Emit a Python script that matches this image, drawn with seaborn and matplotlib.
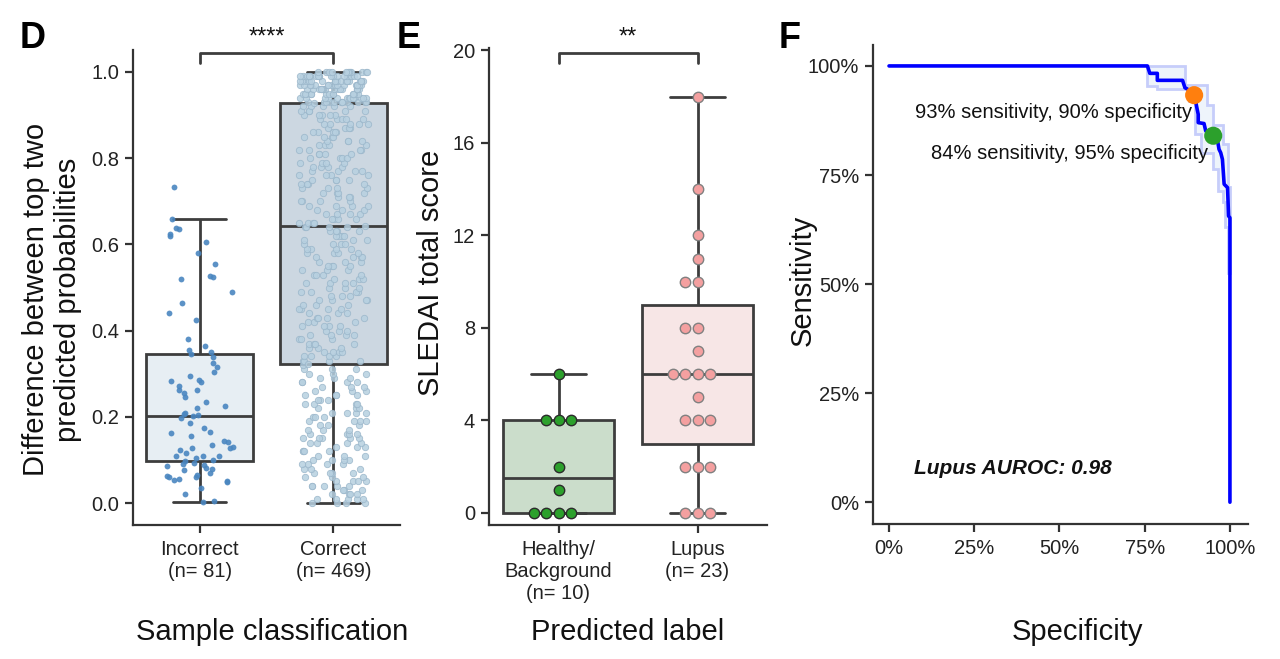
import numpy as np
import pandas as pd
import matplotlib
matplotlib.use("Agg")
from matplotlib import pyplot as plt
from matplotlib.ticker import PercentFormatter
import seaborn as sns

np.random.seed(3)

# ---- panel D: difference between top two predicted probabilities
d_cats = ["Incorrect\n(n= 81)", "Correct\n(n= 469)"]
incorrect_vals = [
    0.002, 0.004, 0.02, 0.035, 0.048, 0.05, 0.053, 0.055, 0.06, 0.06,
    0.062, 0.066, 0.07, 0.077, 0.08, 0.082, 0.085, 0.088, 0.09, 0.093,
    0.097,
    0.1, 0.105, 0.108, 0.11, 0.11, 0.115, 0.122, 0.127, 0.128, 0.13,
    0.135, 0.142, 0.143, 0.155, 0.163, 0.165, 0.175, 0.185, 0.198,
    0.203,
    0.205, 0.206, 0.21, 0.22, 0.225, 0.235, 0.245, 0.255, 0.262, 0.263,
    0.272, 0.28, 0.282, 0.285, 0.295, 0.303, 0.315, 0.325, 0.338,
    0.346,
    0.35, 0.355, 0.365, 0.38, 0.425, 0.44, 0.465, 0.49, 0.52, 0.525,
    0.527, 0.555, 0.58, 0.605, 0.62, 0.625, 0.635, 0.637, 0.66, 0.733,
]
# number of "Correct" samples at each 0.01 step, 0.00 ... 1.00
correct_counts = [
    4, 5, 4, 3, 5, 4, 3, 4, 3, 4,
    4, 3, 4, 3, 4, 5, 4, 3, 3, 4,
    3, 4, 3, 4, 3, 4, 3, 3, 4, 3,
    3, 3, 1, 4, 4, 4, 3, 4, 3, 4,
    3, 4, 3, 4, 3, 4, 3, 4, 3, 4,
    3, 4, 3, 4, 3, 4, 3, 4, 4, 4,
    4, 3, 4, 4, 4, 4, 4, 4, 3, 4,
    4, 3, 4, 4, 4, 4, 4, 4, 4, 4,
    4, 4, 4, 4, 4, 4, 5, 4, 5, 5,
    5, 5, 5, 12, 13, 14, 15, 16, 17, 18,
    12,
]
correct_extra = [0.323, 0.643, 0.927]

# ---- panel E: SLEDAI score by predicted label
e_cats = ["Healthy/\nBackground\n(n= 10)", "Lupus\n(n= 23)"]
healthy_sledai = [0, 0, 0, 0, 1, 2, 4, 4, 4, 6]
lupus_sledai = [0, 0, 0, 2, 2, 2, 4, 4, 4, 5, 6, 6, 6, 6, 7, 8, 8, 10, 10, 11, 12, 14, 18]

# ---- panel F: ROC curve
roc_spec = [0.0, 0.758, 0.765, 0.787, 0.787, 0.861, 0.868, 0.885, 0.897, 0.902,
            0.907, 0.907, 0.924, 0.929, 0.949, 0.963, 0.968, 0.973, 0.978, 0.983,
            0.993, 0.996, 1.0, 1.0]
roc_sens = [1.0, 1.0, 0.983, 0.983, 0.967, 0.967, 0.950, 0.943, 0.931, 0.908,
            0.889, 0.870, 0.868, 0.851, 0.839, 0.832, 0.809, 0.801, 0.786, 0.729,
            0.721, 0.656, 0.652, 0.0]
ci_hi_spec = [0.758, 0.868, 0.868, 0.932, 0.932, 0.951, 0.951, 0.980, 0.980, 0.995, 0.995, 1.0]
ci_hi_sens = [1.0, 1.0, 0.956, 0.956, 0.910, 0.910, 0.864, 0.864, 0.820, 0.820, 0.722, 0.722]
ci_lo_spec = [0.758, 0.758, 0.785, 0.785, 0.880, 0.880, 0.897, 0.897, 0.915, 0.915, 0.951,
              0.951, 0.966, 0.966, 0.980, 0.980, 0.985, 0.985, 0.994, 0.994, 1.0]
ci_lo_sens = [1.0, 0.953, 0.953, 0.946, 0.946, 0.920, 0.920, 0.843, 0.843, 0.800, 0.800,
              0.763, 0.763, 0.713, 0.713, 0.687, 0.687, 0.630, 0.630, 0.525, 0.525]
cut_names = ["90% specificity", "95% specificity"]
cut_spec = [0.895, 0.951]
cut_sens = [0.933, 0.840]
cut_labels = ["93% sensitivity, 90% specificity", "84% sensitivity, 95% specificity"]
auroc = 0.98

# ---------------------------------------------------------------
sns.set_style("ticks")
plt.rcParams["font.family"] = ["Liberation Sans", "DejaVu Sans"]
dark = "#3d3d3d"
plt.rcParams.update({
    "text.color": "#111111", "axes.labelcolor": "#111111",
    "axes.edgecolor": "#333333", "axes.linewidth": 1.6,
    "xtick.color": "#333333", "ytick.color": "#333333",
    "xtick.labelcolor": "#222222", "ytick.labelcolor": "#222222",
    "xtick.major.size": 6, "ytick.major.size": 6,
    "xtick.major.width": 1.6, "ytick.major.width": 1.6,
    "xtick.labelsize": 14.5, "ytick.labelsize": 14.5,
    "xtick.major.pad": 5, "ytick.major.pad": 4,
})

fig = plt.figure(figsize=(12.8, 6.59), dpi=100)
axD = fig.add_axes([133 / 1280, 134 / 659, 267 / 1280, 475 / 659])
axE = fig.add_axes([489 / 1280, 134 / 659, 278 / 1280, 477 / 659])
axF = fig.add_axes([873 / 1280, 135 / 659, 375 / 1280, 479 / 659])

# ---- D
grid = np.round(np.arange(len(correct_counts)) * 0.01, 2)
correct_vals = np.concatenate([np.repeat(grid, correct_counts), correct_extra])
dfD = pd.DataFrame({
    "cls": [d_cats[0]] * len(incorrect_vals) + [d_cats[1]] * len(correct_vals),
    "diff": np.concatenate([incorrect_vals, correct_vals]),
})
sns.boxplot(data=dfD, x="cls", y="diff", order=d_cats, hue="cls", hue_order=d_cats,
            palette=["#e5eef5", "#c8d7e5"], legend=False, width=0.8, linewidth=2,
            linecolor=dark, showfliers=False, ax=axD)
sns.stripplot(data=dfD[dfD.cls == d_cats[0]], x="cls", y="diff", order=d_cats,
              color="#4a86c0", size=4.2, jitter=0.26, alpha=0.9, linewidth=0, ax=axD)
sns.stripplot(data=dfD[dfD.cls == d_cats[1]], x="cls", y="diff", order=d_cats,
              color="#b7d0e0", size=4.6, jitter=0.26, alpha=0.85, linewidth=0.6,
              edgecolor="#9ab6ca", ax=axD)
axD.set_ylim(-0.051, 1.051)
axD.set_xlim(-0.5, 1.5)
axD.set_yticks([0, 0.2, 0.4, 0.6, 0.8, 1.0])
axD.set_yticklabels(["0.0", "0.2", "0.4", "0.6", "0.8", "1.0"])
axD.plot([0, 0, 1, 1], [1.021, 1.044, 1.044, 1.021], color=dark, lw=2, clip_on=False)
axD.text(0.5, 1.066, "****", ha="center", va="baseline", fontsize=17, clip_on=False)
axD.set_ylabel("Difference between top two\npredicted probabilities", fontsize=21,
               linespacing=1.2)
axD.set_xlabel("Sample classification", fontsize=21)
axD.yaxis.set_label_coords(-0.19, 0.474)
axD.xaxis.set_label_coords(0.52, -0.195)
axD.xaxis.label.set_va("top")

# ---- E
dfE = pd.DataFrame({
    "label": [e_cats[0]] * len(healthy_sledai) + [e_cats[1]] * len(lupus_sledai),
    "score": healthy_sledai + lupus_sledai,
})
sns.boxplot(data=dfE, x="label", y="score", order=e_cats, hue="label", hue_order=e_cats,
            palette=["#c8e0c8", "#fae3e3"], legend=False, width=0.8, linewidth=2,
            linecolor=dark, showfliers=False, ax=axE)
sns.swarmplot(data=dfE[dfE.label == e_cats[0]], x="label", y="score", order=e_cats,
              color="#2ca02c", edgecolor="#2b2b2b", linewidth=1, size=7.5, ax=axE)
sns.swarmplot(data=dfE[dfE.label == e_cats[1]], x="label", y="score", order=e_cats,
              color="#f4a0a0", edgecolor="#808080", linewidth=1, size=7.5, ax=axE)
axE.set_ylim(-0.52, 20.1)
axE.set_xlim(-0.5, 1.5)
axE.set_yticks([0, 4, 8, 12, 16, 20])
axE.plot([0, 0, 1, 1], [19.44, 19.87, 19.87, 19.44], color=dark, lw=2, clip_on=False)
axE.text(0.5, 20.3, "**", ha="center", va="baseline", fontsize=17, clip_on=False)
axE.set_ylabel("SLEDAI total score", fontsize=21)
axE.set_xlabel("Predicted label", fontsize=21)
axE.yaxis.set_label_coords(-0.16, 0.528)
axE.xaxis.set_label_coords(0.5, -0.195)
axE.xaxis.label.set_va("top")

# ---- F
band_x = ci_hi_spec + ci_lo_spec[::-1]
band_y = ci_hi_sens + ci_lo_sens[::-1]
axF.fill(band_x, band_y, facecolor="#eef4fb", edgecolor="#c6cdfa", lw=2, zorder=1)
sns.lineplot(x=roc_spec, y=roc_sens, sort=False, estimator=None, color="#0000ff",
             lw=2.6, ax=axF, zorder=3)
sns.scatterplot(x=cut_spec, y=cut_sens, hue=cut_names, palette=["#ff7f0e", "#2ca02c"],
                s=170, linewidth=0, legend=False, ax=axF, zorder=5)
axF.text(0.889, 0.894, cut_labels[0], ha="right", va="center", fontsize=14.5)
axF.text(0.935, 0.800, cut_labels[1], ha="right", va="center", fontsize=14.5)
axF.text(0.073, 0.078, f"Lupus AUROC: {auroc:.2f}", ha="left", va="center",
         fontsize=15, fontweight="bold", fontstyle="italic")
axF.set_xlim(-0.047, 1.053)
axF.set_ylim(-0.05, 1.048)
axF.set_xticks([0, 0.25, 0.5, 0.75, 1.0])
axF.set_yticks([0, 0.25, 0.5, 0.75, 1.0])
axF.xaxis.set_major_formatter(PercentFormatter(1.0, decimals=0))
axF.yaxis.set_major_formatter(PercentFormatter(1.0, decimals=0))
axF.set_ylabel("Sensitivity", fontsize=21)
axF.set_xlabel("Specificity", fontsize=21)
axF.yaxis.set_label_coords(-0.15, 0.509)
axF.xaxis.set_label_coords(0.544, -0.196)
axF.xaxis.label.set_va("top")

for ax in (axD, axE, axF):
    sns.despine(ax=ax)

for x, letter in ((20, "D"), (397, "E"), (779, "F")):
    fig.text(x / 1280, 1 - 48 / 659, letter, fontsize=26, fontweight="bold",
             va="baseline", ha="left", color="black",
             family=["Liberation Sans Narrow", "Liberation Sans", "DejaVu Sans"])

fig.savefig("out.png", dpi=100)
